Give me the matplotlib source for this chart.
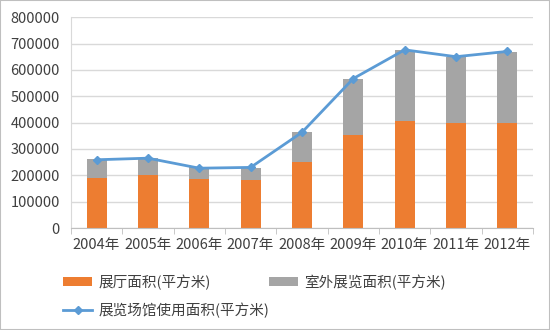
import matplotlib
matplotlib.use("Agg")
import matplotlib.pyplot as plt
import numpy as np

plt.rcParams["font.family"] = ["Noto Sans CJK SC", "DejaVu Sans"]

YEARS = ["2004年", "2005年", "2006年", "2007年", "2008年", "2009年", "2010年", "2011年", "2012年"]
HALL_AREA = [189000, 203000, 187000, 184000, 252000, 353000, 405000, 400000, 397000]
OUTDOOR_AREA = [72000, 64500, 43000, 44000, 111000, 213000, 270000, 250000, 272000]
VENUE_AREA = [259000, 265000, 227000, 230000, 363000, 567000, 676000, 650000, 670000]

ORANGE = "#ED7D31"
GRAY = "#A5A5A5"
BLUE = "#5B9BD5"
TEXT = "#404040"
FS = 10.5

fig = plt.figure(figsize=(5.5, 3.3), dpi=100)
ax = fig.add_axes([0.129, 0.309, 0.84, 0.639])

x = np.arange(len(YEARS))
width = 0.39
b1 = ax.bar(x, HALL_AREA, width, color=ORANGE, label="展厅面积(平方米)", zorder=2)
b2 = ax.bar(x, OUTDOOR_AREA, width, bottom=HALL_AREA, color=GRAY,
            label="室外展览面积(平方米)", zorder=2)
l1, = ax.plot(x, VENUE_AREA, color=BLUE, lw=2, marker="D", markersize=4,
              label="展览场馆使用面积(平方米)", zorder=3)

ax.set_xlim(-0.5, len(YEARS) - 0.5)
ax.set_ylim(0, 800000)
ax.set_yticks(np.arange(0, 800001, 100000))
ax.yaxis.grid(True, color="#D9D9D9", lw=1, zorder=0)
ax.set_axisbelow(True)

ax.set_xticks(x)
ax.set_xticklabels(YEARS)
ax.set_xticks(np.arange(-0.5, len(YEARS)), minor=True)
ax.tick_params(axis="x", which="major", length=0, pad=7, labelsize=FS, colors=TEXT)
ax.tick_params(axis="x", which="minor", length=4, color="#BFBFBF")
ax.tick_params(axis="y", length=0, labelsize=FS, colors=TEXT, pad=8)

for side in ["top", "right"]:
    ax.spines[side].set_visible(False)
ax.spines["left"].set_color("#D9D9D9")
ax.spines["bottom"].set_color("#BFBFBF")

# legend: bars on the first row, the line on its own row below
common = dict(loc="center left", frameon=False, fontsize=FS, handlelength=2.0,
              handleheight=0.5, handletextpad=0.4, labelcolor=TEXT,
              borderaxespad=0, borderpad=0)
fig.legend([b1, b2], [b1.get_label(), b2.get_label()], ncol=2,
           columnspacing=4.0, bbox_to_anchor=(0.115, 1 - 282 / 330), **common)
fig.legend([l1], [l1.get_label()], bbox_to_anchor=(0.115, 1 - 310 / 330), **common)

fig.patches.append(plt.Rectangle((0, 0), 1, 1, transform=fig.transFigure,
                                 fill=False, edgecolor="#BFBFBF", lw=1.5))

fig.savefig("out.png", dpi=100)
